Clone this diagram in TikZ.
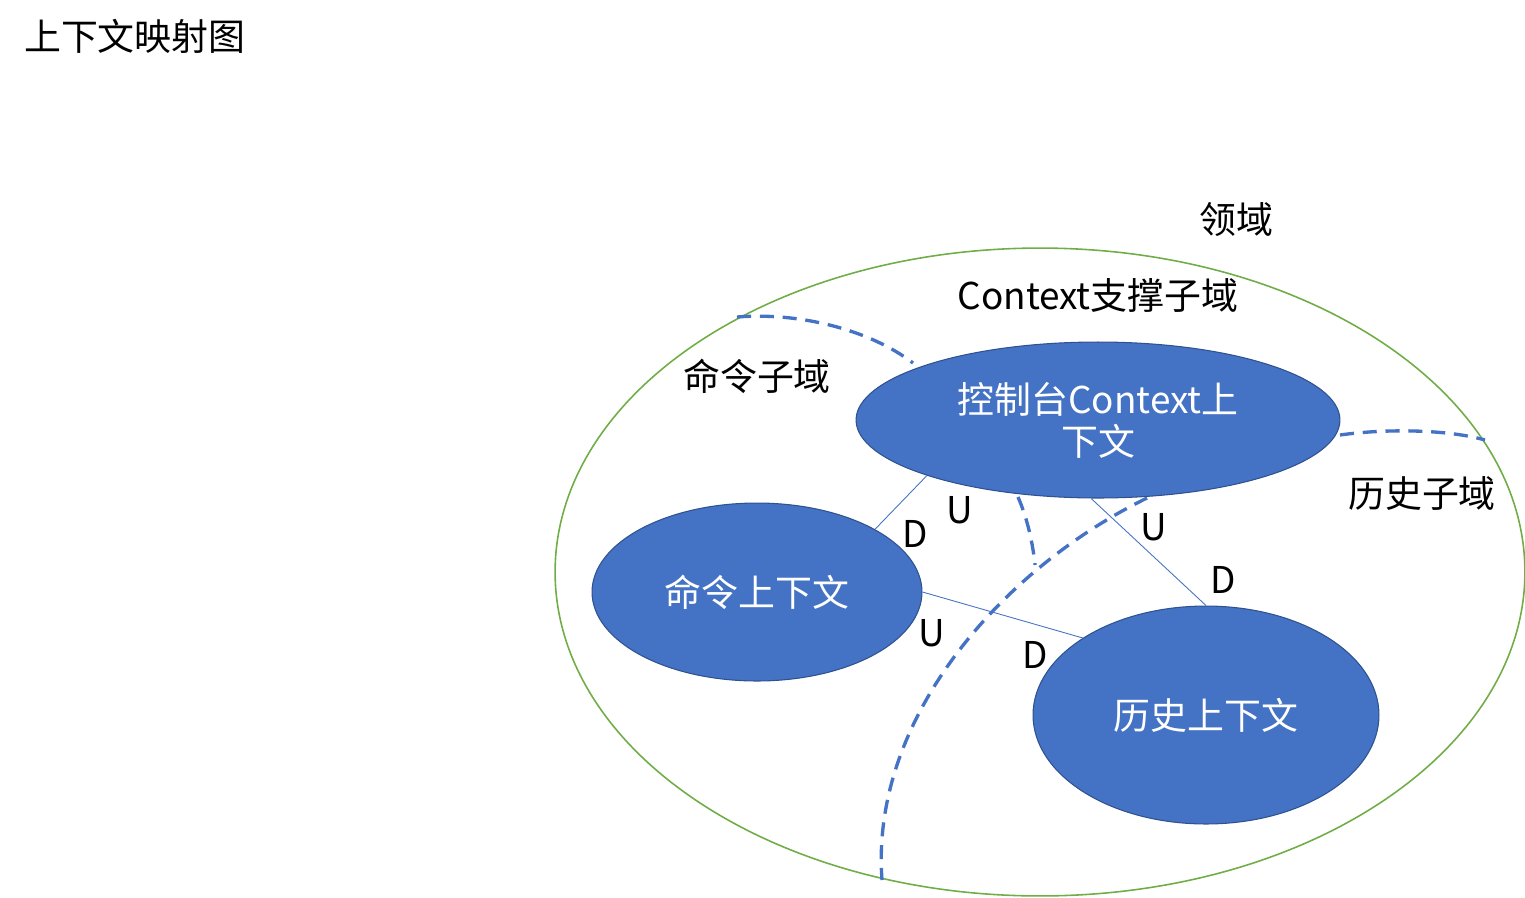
\documentclass[tikz,border=0pt]{standalone}
\usepackage{fontspec}
\setmainfont{Noto Sans CJK SC}
\usepackage{tikz}
\usetikzlibrary{shapes.geometric}
\definecolor{ctxblue}{HTML}{4472C4}
\definecolor{ctxedge}{HTML}{2F528F}
\definecolor{domgreen}{HTML}{70AD47}

\begin{document}
\begin{tikzpicture}[x=0.02cm,y=-0.02cm,font=\fontsize{21}{24}\selectfont,
    ctx/.style={ellipse,fill=ctxblue,draw=ctxedge,line width=0.6pt,text=white,align=center,inner sep=0pt},
    rel/.style={draw=ctxblue,line width=0.5pt},
    bound/.style={draw=ctxblue,line width=1.9pt,dash pattern=on 8pt off 5pt}]
              \useasboundingbox (0,0) rectangle (1525,897);
              \node[anchor=west](title)at(18,36){上下文映射图};
              \draw[domgreen,line width=0.9pt] (1040,572) ellipse [x radius=9.7cm,y radius=6.48cm];
              \node(dom)at(1236,220){领域};
              \node(supdom)at(1098,295){Context支撑子域};
              \node(cmddom)at(757,376){命令子域};
              \node(histdom)at(1422,493){历史子域};
              \draw[bound] (737,317) .. controls (800,312) and (870,330) .. (913,363);
              \draw[bound] (1340,435) .. controls (1390,428) and (1450,430) .. (1485,440);
              \draw[bound] (1018,497) .. controls (1028,520) and (1033,545) .. (1035,565);
              \draw[bound] (1147,498) .. controls (1000,570) and (870,720) .. (882,880);
              \node[ctx,minimum width=9.68cm,minimum height=3.12cm](console)at(1098,420){控制台Context上\\下文};
              \node[ctx,minimum width=6.6cm,minimum height=3.56cm](cmd)at(757,592){命令上下文};
              \node[ctx,minimum width=6.92cm,minimum height=4.36cm](hist)at(1206,715){历史上下文};
              \draw[rel] (console.198) -- (cmd.28);
              \draw[rel] (cmd.0) -- (hist.148);
              \draw[rel] (console.265) -- (hist.90);
              \node(u1)at(960,510){U};
              \node(d1)at(915,534){D};
              \node(u2)at(1154,527){U};
              \node(d2)at(1223,580){D};
              \node(u3)at(932,633){U};
              \node(d3)at(1035,655){D};
            \end{tikzpicture}
\end{document}
